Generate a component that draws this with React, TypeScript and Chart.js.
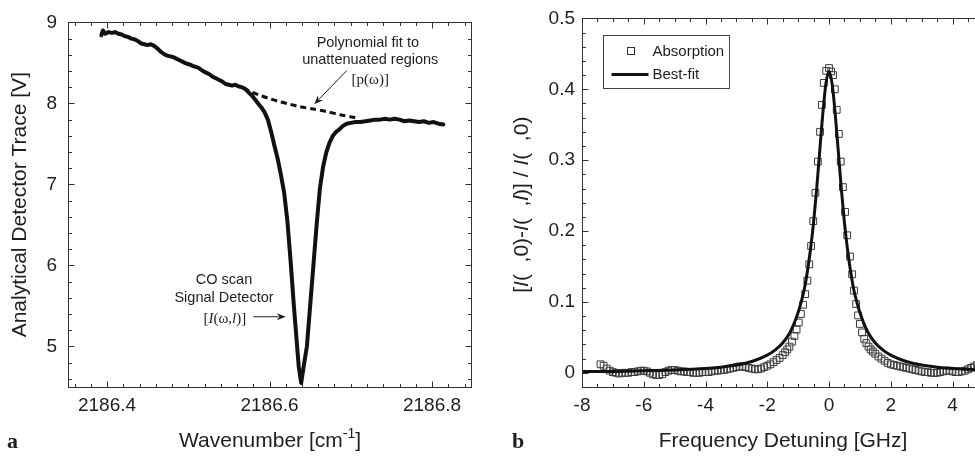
import React, { useEffect, useRef } from "react";
import { Chart, registerables } from "chart.js";
Chart.register(...registerables);

const SANS = "'Liberation Sans', Arial, Helvetica, sans-serif";
const SERIF = "'Liberation Serif', 'Times New Roman', serif";
const INK = "#1e1e1e";

// ---------------- Panel a ----------------
const wavenumber = [
  2186.393, 2186.395, 2186.398, 2186.402, 2186.406, 2186.41, 2186.414, 2186.418, 2186.422, 2186.426,
  2186.43, 2186.434, 2186.438, 2186.442, 2186.446, 2186.45, 2186.454, 2186.458, 2186.462, 2186.466,
  2186.47, 2186.474, 2186.478, 2186.482, 2186.486, 2186.49, 2186.494, 2186.498, 2186.502, 2186.506,
  2186.51, 2186.514, 2186.518, 2186.522, 2186.526, 2186.53, 2186.534, 2186.538, 2186.542, 2186.546,
  2186.55, 2186.554, 2186.558, 2186.562, 2186.566, 2186.57, 2186.574, 2186.578, 2186.582, 2186.586,
  2186.59, 2186.594, 2186.598, 2186.602, 2186.606, 2186.61, 2186.614, 2186.618, 2186.622, 2186.626,
  2186.63, 2186.634, 2186.636, 2186.639, 2186.642, 2186.646, 2186.65, 2186.654, 2186.658, 2186.662,
  2186.666, 2186.67, 2186.674, 2186.678, 2186.682, 2186.686, 2186.69, 2186.695, 2186.7, 2186.706,
  2186.712, 2186.718, 2186.724, 2186.73, 2186.736, 2186.742, 2186.748, 2186.754, 2186.76, 2186.766,
  2186.772, 2186.778, 2186.784, 2186.79, 2186.796, 2186.802, 2186.808, 2186.814,
];
const detectorTrace = [
  8.84, 8.9, 8.86, 8.88, 8.87, 8.88, 8.86, 8.85, 8.83, 8.82,
  8.8, 8.79, 8.77, 8.74, 8.73, 8.72, 8.73, 8.71, 8.68, 8.64,
  8.61, 8.59, 8.58, 8.57, 8.55, 8.53, 8.51, 8.49, 8.48, 8.46,
  8.45, 8.43, 8.4, 8.38, 8.36, 8.33, 8.31, 8.29, 8.27, 8.24,
  8.23, 8.22, 8.23, 8.21, 8.2, 8.18, 8.14, 8.1, 8.05, 8.0,
  7.95, 7.89, 7.8, 7.65, 7.48, 7.32, 7.12, 6.9, 6.55, 6.05,
  5.5, 5.0, 4.75, 4.55, 4.75, 5.0, 5.5, 6.0, 6.5, 6.95,
  7.22, 7.4, 7.52, 7.6, 7.65, 7.68, 7.72, 7.75, 7.76, 7.77,
  7.77, 7.78, 7.79, 7.8, 7.8, 7.81, 7.8, 7.81, 7.8, 7.78,
  7.79, 7.78, 7.77, 7.78, 7.76, 7.77, 7.75, 7.74,
];
const polyWavenumber = [2186.568, 2186.578, 2186.588, 2186.6, 2186.613, 2186.625, 2186.637, 2186.654, 2186.67, 2186.687, 2186.703, 2186.71];
const polyFit = [8.19, 8.14, 8.1, 8.06, 8.02, 7.99, 7.96, 7.93, 7.9, 7.86, 7.83, 7.81];
const panelAXTicks = [2186.4, 2186.6, 2186.8];
const panelAYTicks = [5, 6, 7, 8, 9];

// ---------------- Panel b ----------------
const detuning = [
  -7.4, -7.3, -7.2, -7.1, -7.0, -6.9, -6.8, -6.7, -6.6, -6.5,
  -6.4, -6.3, -6.2, -6.1, -6.0, -5.9, -5.8, -5.7, -5.6, -5.5,
  -5.4, -5.3, -5.2, -5.1, -5.0, -4.9, -4.8, -4.7, -4.6, -4.5,
  -4.4, -4.3, -4.2, -4.1, -4.0, -3.9, -3.8, -3.7, -3.6, -3.5,
  -3.4, -3.3, -3.2, -3.1, -3.0, -2.9, -2.8, -2.7, -2.6, -2.5,
  -2.4, -2.3, -2.2, -2.1, -2.0, -1.9, -1.8, -1.7, -1.6, -1.5,
  -1.42, -1.35, -1.28, -1.2, -1.12, -1.05, -0.98, -0.91, -0.84, -0.77,
  -0.7, -0.64, -0.58, -0.51, -0.44, -0.36, -0.29, -0.23, -0.17, -0.09,
  0.0, 0.07, 0.13, 0.19, 0.25, 0.32, 0.38, 0.45, 0.52, 0.59,
  0.68, 0.75, 0.81, 0.88, 0.94, 1.0, 1.07, 1.14, 1.21, 1.28,
  1.35, 1.42, 1.5, 1.6, 1.7, 1.8, 1.9, 2.0, 2.1, 2.2,
  2.3, 2.4, 2.5, 2.6, 2.7, 2.8, 2.9, 3.0, 3.1, 3.2,
  3.3, 3.4, 3.5, 3.6, 3.7, 3.8, 3.9, 4.0, 4.1, 4.2,
  4.3, 4.4, 4.5, 4.6, 4.7, 4.8,
];
const absorption = [
  0.012, 0.01, 0.006, 0.003, 0.001, 0.0, -0.001, 0.0, 0.0, 0.0,
  0.001, 0.001, 0.002, 0.003, 0.003, 0.002, 0.0, -0.002, -0.003, -0.003,
  -0.002, 0.001, 0.003, 0.004, 0.004, 0.003, 0.002, 0.002, 0.001, 0.001,
  0.0, 0.0, 0.0, 0.001, 0.001, 0.001, 0.002, 0.003, 0.003, 0.004,
  0.004, 0.005, 0.006, 0.007, 0.008, 0.009, 0.009, 0.008, 0.007, 0.006,
  0.005, 0.005, 0.006, 0.008, 0.01, 0.012, 0.015, 0.018, 0.021, 0.025,
  0.029, 0.033, 0.037, 0.044, 0.052, 0.061, 0.071, 0.083, 0.096, 0.111,
  0.13, 0.153, 0.179, 0.214, 0.254, 0.298, 0.34, 0.378, 0.409, 0.426,
  0.43, 0.425, 0.42, 0.4, 0.371, 0.337, 0.298, 0.262, 0.227, 0.194,
  0.164, 0.139, 0.116, 0.097, 0.081, 0.069, 0.057, 0.048, 0.042, 0.037,
  0.033, 0.03, 0.027, 0.023, 0.02, 0.017, 0.014, 0.012, 0.011, 0.01,
  0.009, 0.008, 0.007, 0.006, 0.005, 0.004, 0.003, 0.002, 0.001, 0.001,
  0.0, 0.0, 0.0, 0.001, 0.002, 0.003, 0.003, 0.002, 0.001, 0.001,
  0.002, 0.003, 0.005, 0.007, 0.009, 0.011,
];
const fitDetuning = [
  -8, -7, -6, -5, -4, -3.5, -3, -2.5, -2, -1.75, -1.5, -1.25, -1, -0.9, -0.8, -0.7, -0.6, -0.5, -0.4, -0.3, -0.2, -0.1,
  0, 0.1, 0.2, 0.3, 0.4, 0.5, 0.6, 0.7, 0.8, 0.9, 1, 1.25, 1.5, 1.75, 2, 2.5, 3, 3.5, 4, 5, 6, 7, 8,
];
const bestFit = [
  0.002, 0.002, 0.003, 0.004, 0.006, 0.008, 0.011, 0.016, 0.025, 0.032, 0.042, 0.058, 0.085, 0.1, 0.118, 0.143, 0.174, 0.212, 0.259, 0.313, 0.366, 0.408,
  0.425, 0.408, 0.366, 0.313, 0.259, 0.212, 0.174, 0.143, 0.118, 0.1, 0.085, 0.058, 0.042, 0.032, 0.025, 0.016, 0.011, 0.008, 0.006, 0.004, 0.003, 0.002, 0.002,
];
const panelBXTicks = [-8, -6, -4, -2, 0, 2, 4, 6, 8];
const panelBYTicks = [0, 0.1, 0.2, 0.3, 0.4, 0.5];

const zip = (xs: number[], ys: number[]) => xs.map((x, i) => ({ x, y: ys[i] }));

type Seg = { t: string; italic?: boolean; sup?: boolean; family?: string };

function drawSegs(ctx: CanvasRenderingContext2D, segs: Seg[], size: number, family: string, cx: number, cy: number, rotate = false, baseline: CanvasTextBaseline = "middle") {
  ctx.save();
  ctx.translate(cx, cy);
  if (rotate) ctx.rotate(-Math.PI / 2);
  const fontFor = (s: Seg) => `${s.italic ? "italic " : ""}${s.sup ? Math.round(size * 0.65) : size}px ${s.family || family}`;
  let total = 0;
  const widths = segs.map((s) => {
    ctx.font = fontFor(s);
    const w = ctx.measureText(s.t).width;
    total += w;
    return w;
  });
  let x = -total / 2;
  ctx.textBaseline = baseline;
  ctx.textAlign = "left";
  ctx.fillStyle = INK;
  segs.forEach((s, i) => {
    ctx.font = fontFor(s);
    ctx.fillText(s.t, x, s.sup ? -size * 0.42 : 0);
    x += widths[i];
  });
  ctx.restore();
}

function arrow(ctx: CanvasRenderingContext2D, x1: number, y1: number, x2: number, y2: number) {
  const ang = Math.atan2(y2 - y1, x2 - x1);
  const hl = 9, hw = 3.5;
  ctx.save();
  ctx.strokeStyle = INK;
  ctx.fillStyle = INK;
  ctx.lineWidth = 1;
  ctx.beginPath();
  ctx.moveTo(x1, y1);
  ctx.lineTo(x2 - Math.cos(ang) * hl * 0.8, y2 - Math.sin(ang) * hl * 0.8);
  ctx.stroke();
  ctx.beginPath();
  ctx.moveTo(x2, y2);
  ctx.lineTo(x2 - Math.cos(ang) * hl - Math.sin(ang) * hw, y2 - Math.sin(ang) * hl + Math.cos(ang) * hw);
  ctx.lineTo(x2 - Math.cos(ang) * hl * 0.7, y2 - Math.sin(ang) * hl * 0.7);
  ctx.lineTo(x2 - Math.cos(ang) * hl + Math.sin(ang) * hw, y2 - Math.sin(ang) * hl - Math.cos(ang) * hw);
  ctx.closePath();
  ctx.fill();
  ctx.restore();
}

function frameAndTicks(chart: any, xMinor: number, yMinor: number) {
  const ctx: CanvasRenderingContext2D = chart.ctx;
  const { left, right, top, bottom } = chart.chartArea;
  const xs = chart.scales.x;
  const ys = chart.scales.y;
  const L = Math.round(left) + 0.5, R = Math.round(right) + 0.5, T = Math.round(top) + 0.5, B = Math.round(bottom) + 0.5;
  ctx.save();
  ctx.strokeStyle = "#333";
  ctx.lineWidth = 1;
  ctx.strokeRect(L, T, R - L, B - T);
  const major = 6, minor = 3.5;
  const vtick = (v: number, len: number) => {
    const p = Math.round(xs.getPixelForValue(v)) + 0.5;
    ctx.beginPath();
    ctx.moveTo(p, B); ctx.lineTo(p, B - len);
    ctx.moveTo(p, T); ctx.lineTo(p, T + len);
    ctx.stroke();
  };
  const htick = (v: number, len: number) => {
    const p = Math.round(ys.getPixelForValue(v)) + 0.5;
    ctx.beginPath();
    ctx.moveTo(L, p); ctx.lineTo(L + len, p);
    ctx.moveTo(R, p); ctx.lineTo(R - len, p);
    ctx.stroke();
  };
  for (let k = Math.ceil(xs.min / xMinor - 1e-6); k * xMinor <= xs.max + 1e-9; k++) vtick(k * xMinor, minor);
  for (let k = Math.ceil(ys.min / yMinor - 1e-6); k * yMinor <= ys.max + 1e-9; k++) htick(k * yMinor, minor);
  xs.ticks.forEach((t: any) => vtick(t.value, major));
  ys.ticks.forEach((t: any) => htick(t.value, major));
  ctx.restore();
}

const tickFont = { family: SANS, size: 19 };

function configA(): any {
  const decor = {
    id: "decorA",
    afterDatasetsDraw(chart: any) {
      const ctx: CanvasRenderingContext2D = chart.ctx;
      frameAndTicks(chart, 0.02, 0.2);
      const xs = chart.scales.x, ys = chart.scales.y;
      const px = (v: number) => xs.getPixelForValue(v);
      const py = (v: number) => ys.getPixelForValue(v);
      drawSegs(ctx, [{ t: "Analytical Detector Trace [V]" }], 21, SANS, 20, (chart.chartArea.top + chart.chartArea.bottom) / 2, true);
      drawSegs(ctx, [{ t: "Wavenumber [cm" }, { t: "-1", sup: true }, { t: "]" }], 21, SANS, 270, 447, false, "alphabetic");
      ctx.save();
      ctx.font = `bold 22px ${SERIF}`;
      ctx.fillStyle = INK;
      ctx.textAlign = "left";
      ctx.textBaseline = "alphabetic";
      ctx.fillText("a", 7, 448);
      ctx.restore();
      drawSegs(ctx, [{ t: "Polynomial fit to" }], 14.5, SANS, px(2186.721), py(8.745));
      drawSegs(ctx, [{ t: "unattenuated regions" }], 14.5, SANS, px(2186.724), py(8.54));
      drawSegs(ctx, [{ t: "[p(ω)]" }], 15, SERIF, px(2186.724), py(8.283));
      arrow(ctx, px(2186.695), py(8.405), px(2186.655), py(7.99));
      drawSegs(ctx, [{ t: "CO scan" }], 14.5, SANS, px(2186.544), py(5.82));
      drawSegs(ctx, [{ t: "Signal Detector" }], 14.5, SANS, px(2186.544), py(5.598));
      drawSegs(ctx, [{ t: "[" }, { t: "I", italic: true }, { t: "(ω," }, { t: "l", italic: true }, { t: ")]" }], 15, SERIF, px(2186.545), py(5.343));
      arrow(ctx, px(2186.58), py(5.367), px(2186.62), py(5.367));
    },
  };
  return {
    type: "scatter",
    data: {
      datasets: [
        {
          label: "CO scan",
          data: zip(wavenumber, detectorTrace),
          showLine: true,
          borderColor: "#111",
          borderWidth: 4,
          pointRadius: 0,
          tension: 0,
          borderJoinStyle: "round",
          borderCapStyle: "round",
        },
        {
          label: "Polynomial fit",
          data: zip(polyWavenumber, polyFit),
          showLine: true,
          borderColor: "#111",
          borderWidth: 3,
          borderDash: [6, 4],
          pointRadius: 0,
          tension: 0.3,
        },
      ],
    },
    options: {
      responsive: false,
      animation: false,
      devicePixelRatio: 1,
      layout: { padding: { left: 0, top: 16, right: 19, bottom: 0 } },
      plugins: { legend: { display: false }, tooltip: { enabled: false } },
      scales: {
        x: {
          type: "linear",
          min: 2186.352,
          max: 2186.848,
          grid: { display: false, drawTicks: false },
          border: { display: false },
          ticks: { font: tickFont, color: INK, padding: 7, maxRotation: 0, autoSkip: false, callback: (v: number) => v.toFixed(1) },
          afterBuildTicks: (s: any) => { s.ticks = panelAXTicks.map((v) => ({ value: v })); },
          afterFit: (s: any) => { s.height = 69; },
        },
        y: {
          type: "linear",
          min: 4.5,
          max: 9,
          grid: { display: false, drawTicks: false },
          border: { display: false },
          ticks: { font: tickFont, color: INK, padding: 11, autoSkip: false, callback: (v: number) => String(v) },
          afterBuildTicks: (s: any) => { s.ticks = panelAYTicks.map((v) => ({ value: v })); },
          afterFit: (s: any) => { s.width = 68; },
        },
      },
    },
    plugins: [decor],
  };
}

function configB(): any {
  const decor = {
    id: "decorB",
    afterDatasetsDraw(chart: any) {
      const ctx: CanvasRenderingContext2D = chart.ctx;
      frameAndTicks(chart, 0.5, 0.02);
      const { left, top, bottom } = chart.chartArea;
      drawSegs(
        ctx,
        [
          { t: "[" }, { t: "I", italic: true }, { t: "(  ,0)-" }, { t: "I", italic: true }, { t: "(  ," },
          { t: "l", italic: true }, { t: ")] / " }, { t: "I", italic: true }, { t: "(  ,0)" },
        ],
        21, SANS, 32, (top + bottom) / 2 + 2, true
      );
      drawSegs(ctx, [{ t: "Frequency Detuning [GHz]" }], 21, SANS, 293, 447, false, "alphabetic");
      ctx.save();
      ctx.font = `bold 22px ${SERIF}`;
      ctx.fillStyle = INK;
      ctx.textAlign = "left";
      ctx.textBaseline = "alphabetic";
      ctx.fillText("b", 22, 448);
      ctx.restore();
      // legend box
      const bx = Math.round(left) + 21 + 0.5, by = Math.round(top) + 17 + 0.5;
      ctx.save();
      ctx.fillStyle = "#fff";
      ctx.strokeStyle = "#444";
      ctx.lineWidth = 1;
      ctx.fillRect(bx, by, 126, 53);
      ctx.strokeRect(bx, by, 126, 53);
      ctx.strokeStyle = "#333";
      ctx.strokeRect(bx + 24, by + 12, 7, 7);
      ctx.strokeStyle = "#111";
      ctx.lineWidth = 3;
      ctx.beginPath();
      ctx.moveTo(bx + 8, by + 39);
      ctx.lineTo(bx + 45, by + 39);
      ctx.stroke();
      ctx.font = `15px ${SANS}`;
      ctx.fillStyle = INK;
      ctx.textAlign = "left";
      ctx.textBaseline = "middle";
      ctx.fillText("Absorption", bx + 49, by + 16);
      ctx.fillText("Best-fit", bx + 49, by + 39);
      ctx.restore();
    },
  };
  return {
    type: "scatter",
    data: {
      datasets: [
        {
          label: "Best-fit",
          data: zip(fitDetuning, bestFit),
          showLine: true,
          borderColor: "#111",
          borderWidth: 3,
          pointRadius: 0,
          cubicInterpolationMode: "monotone",
        },
        {
          label: "Absorption",
          data: zip(detuning, absorption),
          showLine: false,
          pointStyle: "rect",
          pointRadius: 4.8,
          pointBorderWidth: 1,
          pointBorderColor: "#3a3a3a",
          pointBackgroundColor: "rgba(0,0,0,0)",
        },
      ],
    },
    options: {
      responsive: false,
      animation: false,
      devicePixelRatio: 1,
      layout: { padding: { left: 0, top: 16, right: 34, bottom: 0 } },
      plugins: { legend: { display: false }, tooltip: { enabled: false } },
      scales: {
        x: {
          type: "linear",
          min: -8,
          max: 8,
          grid: { display: false, drawTicks: false },
          border: { display: false },
          ticks: { font: tickFont, color: INK, padding: 7, maxRotation: 0, autoSkip: false, callback: (v: number) => String(v) },
          afterBuildTicks: (s: any) => { s.ticks = panelBXTicks.map((v) => ({ value: v })); },
          afterFit: (s: any) => { s.height = 69; },
        },
        y: {
          type: "linear",
          min: -0.02,
          max: 0.5,
          grid: { display: false, drawTicks: false },
          border: { display: false },
          ticks: { font: tickFont, color: INK, padding: 7, autoSkip: false, callback: (v: number) => (v === 0 ? "0" : v.toFixed(1)) },
          afterBuildTicks: (s: any) => { s.ticks = panelBYTicks.map((v) => ({ value: v })); },
          afterFit: (s: any) => { s.width = 92; },
        },
      },
    },
    plugins: [decor],
  };
}

export default function App() {
  const aRef = useRef<HTMLCanvasElement | null>(null);
  const bRef = useRef<HTMLCanvasElement | null>(null);
  useEffect(() => {
    const ca = new Chart(aRef.current as HTMLCanvasElement, configA());
    const cb = new Chart(bRef.current as HTMLCanvasElement, configB());
    return () => {
      ca.destroy();
      cb.destroy();
    };
  }, []);
  return (
    <div style={{ position: "fixed", left: 0, top: 0, width: 975, height: 456, overflow: "hidden", background: "#fff" }}>
      <canvas ref={aRef} width={490} height={456} style={{ position: "absolute", left: 0, top: 0, width: 490, height: 456 }} />
      <canvas ref={bRef} width={620} height={456} style={{ position: "absolute", left: 490, top: 0, width: 620, height: 456 }} />
    </div>
  );
}
